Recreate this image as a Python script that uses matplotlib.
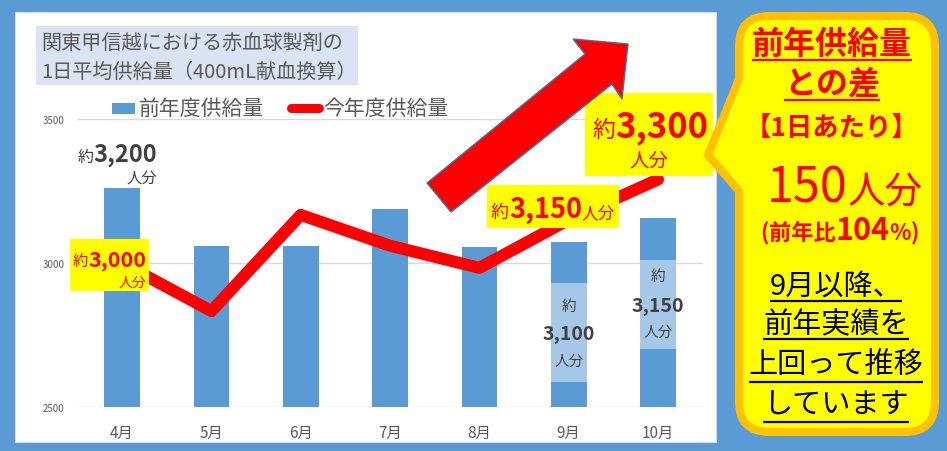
import matplotlib

matplotlib.use("Agg")
import matplotlib.pyplot as plt
import numpy as np
from matplotlib.patches import PathPatch, Polygon, Rectangle
from matplotlib.path import Path

plt.rcParams["font.family"] = ["Noto Sans CJK JP", "DejaVu Sans"]

# data
months = ["4月", "5月", "6月", "7月", "8月", "9月", "10月"]
last_year = [3260, 3060, 3060, 3188, 3057, 3073, 3156]   # 前年度供給量 (bars)
this_year = [3000, 2833, 3167, 3060, 2983, 3150, 3290]   # 今年度供給量 (line)
y_ticks = [2500, 3000, 3500]

BLUE = "#5B9BD5"
LIGHT = "#A5C8E9"
GRAY = "#595959"
DARK = "#404040"
RED = "#FF0000"
YELLOW = "#FFFF00"
ORANGE = "#FFC000"

W, H = 947, 452
fig = plt.figure(figsize=(W / 100, H / 100), dpi=100, facecolor=BLUE)
renderer = fig.canvas.get_renderer()


def pt(pixels):
    return pixels * 0.72


def overlay(z):
    a = fig.add_axes([0, 0, 1, 1], zorder=z)
    a.set_xlim(0, W)
    a.set_ylim(H, 0)
    a.axis("off")
    return a


def runs(a, x, y, parts, ha="center", color=RED, va="baseline"):
    # mixed-size text pieces placed one after another
    arts, widths = [], []
    for s, size, wt in parts:
        t = a.text(0, y, s, fontsize=size, fontweight=wt, color=color, ha="left", va=va)
        widths.append(t.get_window_extent(renderer).width)
        arts.append(t)
    total = sum(widths)
    start = {"left": x, "center": x - total / 2, "right": x - total}[ha]
    for t, w in zip(arts, widths):
        t.set_x(start)
        start += w
    return arts


def underline(a, t, y, color):
    bb = t.get_window_extent(renderer)
    a.plot([bb.x0, bb.x1], [y, y], color=color, lw=1.6, solid_capstyle="butt")


# background panel, title, legend
bg = overlay(0)
bg.add_patch(Rectangle((15, 13), 701, 430, fc="white", ec="#D9D9D9", lw=0.8))
bg.add_patch(Rectangle((36, 27), 322, 59, fc="#DAE3F3", ec="none"))
bg.text(41, 44, "関東甲信越における赤血球製剤の", fontsize=14.5, color=GRAY, va="center")
bg.text(41, 72, "1日平均供給量（400mL献血換算）", fontsize=14.5, color=GRAY, va="center")
bg.add_patch(Rectangle((112, 104), 23, 11, fc=BLUE, ec="none"))
bg.text(139, 109, "前年度供給量", fontsize=15, color=GRAY, va="center")
bg.plot([291, 319], [109, 109], color=RED, lw=pt(9), solid_capstyle="round")
bg.text(323, 109, "今年度供給量", fontsize=15, color=GRAY, va="center")

# chart
x0, x1, ytop, ybot = 77.4, 702.7, 120, 408
ax = fig.add_axes([x0 / W, (H - ybot) / H, (x1 - x0) / W, (ybot - ytop) / H], zorder=1)
ax.set_facecolor("none")
x = np.arange(len(months))
ax.bar(x, last_year, width=0.4, color=BLUE, zorder=2)
ax.plot(x, this_year, color=RED, lw=pt(12), solid_capstyle="round",
        solid_joinstyle="round", zorder=4)
ax.set_xlim(-0.5, len(months) - 0.5)
ax.set_ylim(y_ticks[0], y_ticks[-1])
ax.set_yticks(y_ticks)
ax.yaxis.grid(True, color="#D9D9D9", lw=1)
ax.set_axisbelow(True)
for s in ax.spines.values():
    s.set_visible(False)
ax.set_xticks(x, months)
ax.tick_params(axis="x", length=0, pad=12, labelsize=11, labelcolor=GRAY)
ax.tick_params(axis="y", length=0, pad=9, labelsize=7, labelcolor=GRAY)

# light text boxes inside the 9月 / 10月 bars
ax.add_patch(Rectangle((5 - 0.2, 2587), 0.4, 344, fc=LIGHT, ec="none", zorder=3))
ax.add_patch(Rectangle((6 - 0.2, 2701), 0.4, 309, fc=LIGHT, ec="none", zorder=3))

top = overlay(3)
step = (x1 - x0) / len(months)
cx9, cx10 = x0 + 5.5 * step, x0 + 6.5 * step
for cx, ys, num in [(cx9, (307, 335, 362), "3,100"), (cx10, (277, 307, 333), "3,150")]:
    top.text(cx, ys[0], "約", fontsize=10.5, color=DARK, ha="center", va="center")
    top.text(cx, ys[1], num, fontsize=14, fontweight="bold", color=DARK, ha="center", va="center")
    top.text(cx, ys[2], "人分", fontsize=10.5, color=DARK, ha="center", va="center")

# 4月 前年 label
runs(top, 157, 162, [("約", 11.5, "normal"), ("3,200", 17, "bold")], ha="right", color=DARK)
top.text(157, 184, "人分", fontsize=11, color=DARK, ha="right", va="baseline")

# yellow labels on the line
top.add_patch(Rectangle((70, 240), 79, 52, fc=YELLOW, ec="none"))
runs(top, 146, 266, [("約", 11, "normal"), ("3,000", 15.5, "bold")], ha="right")
top.text(146, 287, "人分", fontsize=10, color=RED, ha="right", va="baseline")

top.add_patch(Rectangle((487, 186), 132, 43, fc=YELLOW, ec="none"))
runs(top, 553, 218, [("約", 13, "normal"), ("3,150", 19.5, "bold"), ("人分", 12, "normal")])

top.add_patch(Rectangle((585, 94), 128, 83, fc=YELLOW, ec="none"))
runs(top, 650, 137, [("約", 16.5, "normal"), ("3,300", 25, "bold")])
top.text(649, 167, "人分", fontsize=14, color=RED, ha="center", va="baseline")

# big arrow
arrow = [(427, 184), (585, 55), (573, 40), (628, 45), (622, 100), (612, 85), (451, 213)]
top.add_patch(Polygon(arrow, closed=True, fc=RED, ec="#41719C", lw=1))

# callout on the right
bx0, bx1, by0, by1, r = 739, 935, 17, 433, 30
verts = [
    (bx0 + r, by0), (bx1 - r, by0), (bx1, by0), (bx1, by0 + r),
    (bx1, by1 - r), (bx1, by1), (bx1 - r, by1),
    (bx0 + r, by1), (bx0, by1), (bx0, by1 - r),
    (bx0, 192), (708, 156), (bx0, 80),
    (bx0, by0 + r), (bx0, by0), (bx0 + r, by0), (bx0 + r, by0),
]
codes = [Path.MOVETO, Path.LINETO, Path.CURVE3, Path.CURVE3,
         Path.LINETO, Path.CURVE3, Path.CURVE3,
         Path.LINETO, Path.CURVE3, Path.CURVE3,
         Path.LINETO, Path.LINETO, Path.LINETO,
         Path.LINETO, Path.CURVE3, Path.CURVE3, Path.CLOSEPOLY]
top.add_patch(PathPatch(Path(verts, codes), fc=YELLOW, ec=ORANGE, lw=pt(8), joinstyle="miter"))

t = top.text(832, 45, "前年供給量", fontsize=23, fontweight="bold", color=RED, ha="center", va="center")
underline(top, t, 61, RED)
t = top.text(832, 84, "との差", fontsize=23, fontweight="bold", color=RED, ha="center", va="center")
underline(top, t, 101, RED)
top.text(832, 128, "【1日あたり】", fontsize=19, fontweight="bold", color=RED, ha="center", va="center")
runs(top, 845, 203, [("150", 35, "normal"), ("人分", 27, "normal")])
runs(top, 840, 240, [("(", 16, "bold"), ("前年比", 16, "bold"), ("104", 22, "bold"),
                     ("%", 16, "bold"), (")", 16, "bold")])

for txt, yc, yu in [("9月以降、", 287, 302), ("前年実績を", 325, 340),
                    ("上回って推移", 366, 383), ("しています", 406, 423)]:
    t = top.text(836, yc, txt, fontsize=21, color="black", ha="center", va="center")
    underline(top, t, yu, "black")

fig.savefig("out.png", dpi=100, facecolor=BLUE)
